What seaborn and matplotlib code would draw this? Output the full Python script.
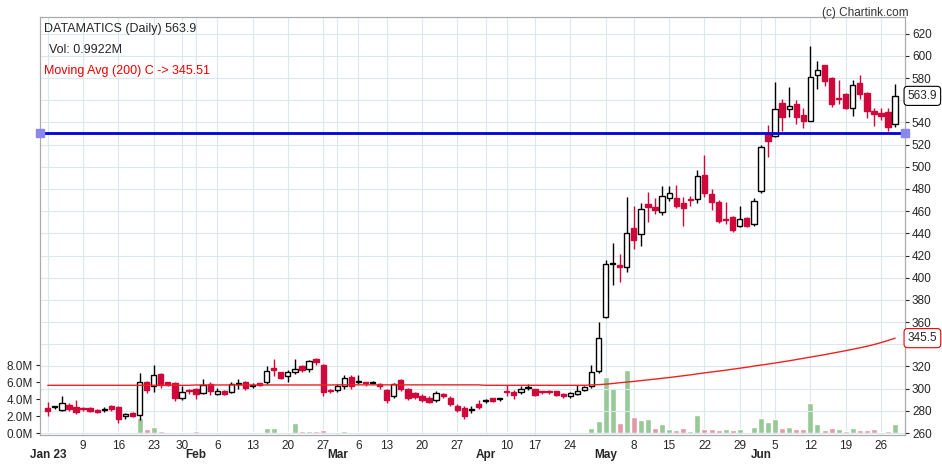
import pandas as pd
import numpy as np
import seaborn as sns
import matplotlib
matplotlib.use("Agg")
import matplotlib.pyplot as plt

# 交易日
holidays = ["2023-01-26", "2023-03-07", "2023-03-30", "2023-04-04", "2023-04-07", "2023-04-14", "2023-05-01"]
dates = pd.bdate_range("2023-01-02", "2023-06-28")
dates = dates[~dates.isin(pd.to_datetime(holidays))]

opens = [282.4, 283, 281, 285.4, 283, 282, 282.4, 281, 280.5, 284, 283, 275, 278, 276, 306, 302, 313, 305.8, 305, 292, 298.5,
         299.8, 296, 304, 295, 298, 297, 304, 306, 302.5, 305, 306, 319, 314.7, 311, 315, 320.7, 317.7, 326.7, 321, 298.5,
         298.8, 302.7, 310.8, 305.7, 305.5, 305, 304, 298.8, 293.7, 307.8, 299.7, 295.8, 293.7, 291.9, 289.8, 295, 291.9, 284.7, 282.3, 281, 286.2,
         288.4, 291.6, 290.5, 296.9, 296.7, 296.7, 300.3, 299.6, 296.8, 297.6, 297.5, 295, 293, 295, 299, 302, 316,
         364.8, 412.7, 411.8, 409.7, 444.6, 439.6, 466.5, 463.5, 459, 471.6, 471.6, 467.4, 470.3, 471, 493, 475.5, 468.6, 453, 454.5, 446.4, 453.6, 448.5,
         478, 529.4, 527.9, 557.2, 552.4, 556.3, 546.5, 541.4, 582.3, 591.3, 580.2, 561.9, 565.3, 553.3, 575.8, 566.2, 550.3, 548.8, 549.4, 538.4]
closes = [279.4, 283.3, 287, 281.8, 279, 281.8, 280, 279, 280.5, 282, 273, 277, 275, 306, 299, 312, 303, 303.4, 292, 297, 298,
          295, 303, 298, 298, 295, 304, 305, 300.4, 303, 303, 316, 317, 310, 314.7, 318, 316.8, 325, 323.7, 297.3, 298,
          302, 310, 302.7, 306, 305, 305.3, 302, 289.8, 304, 299.7, 291.3, 292.8, 289.8, 288.3, 295.8, 293, 285.9, 280.8, 275.7, 281, 283.2,
          288.8, 288.6, 290.8, 296.6, 294, 299.6, 300.6, 294, 296.6, 297.4, 294, 293, 296, 297.5, 301.4, 314.6, 346,
          412.7, 412.9, 409.7, 440, 433.6, 462, 463.5, 461.4, 473.3, 476, 465, 462.6, 470, 491.4, 476, 468.6, 451.5, 452.4, 442.6, 453, 447, 469.5,
          518, 523.4, 551.8, 545.3, 555, 545.3, 541.4, 581, 587, 577.2, 556.3, 561.5, 553.3, 573.4, 565.3, 550.3, 547.4, 545.8, 535.4, 563.9]
highs = [288, 284, 293, 287, 290, 283, 283, 282, 283, 285, 284, 278, 279, 314, 307, 321, 314, 306, 306, 302, 300,
         301, 309, 306, 301, 299, 306, 309, 307, 305, 305.5, 320, 327, 315, 317, 327, 321, 326, 328, 322, 299.5,
         304, 312, 312, 312, 306, 307, 305, 300, 305, 309, 301, 297, 295, 293, 298, 296, 293, 286, 284, 284, 290,
         291, 292, 292, 303, 299, 302, 304, 300, 298, 299, 298, 296, 297, 303, 302, 321, 360,
         415.6, 431.5, 421.6, 472.5, 465, 467.4, 477.5, 472, 483, 483, 484, 472.5, 474, 497, 511, 480, 470, 468, 456, 465, 455, 472,
         520, 537.5, 576, 560.8, 572, 560, 553.4, 608.6, 595, 592, 581, 578, 566.5, 578, 583, 567, 553.4, 553.4, 553.4, 574.4]
lows = [275, 282, 280, 280, 277, 280, 279, 278, 278.5, 280, 269, 273, 274, 272, 296, 297, 301, 302, 289, 290, 295,
        291, 295, 294, 294, 294, 296, 300, 299, 301, 302, 304, 311, 309, 306, 313, 315, 315, 321, 293, 296,
        297, 300, 300, 304, 302, 304, 300, 287, 292, 298, 290, 291, 288, 287, 288, 292, 284, 279, 273, 278, 282,
        287, 288, 289, 293, 291, 295, 299, 293, 295, 295, 293, 292, 292, 294, 298, 301, 314,
        364, 393.8, 396, 405, 426, 429, 450, 457, 456.6, 469, 463, 446.5, 465, 467, 473, 461, 449, 448, 441, 445.5, 445.5, 447,
        476, 508.5, 527, 532.4, 545.3, 538.4, 534.5, 541.4, 569.8, 572.8, 554.2, 557, 552, 546, 561.5, 544.4, 537, 542, 532.4, 535.4]
volume_m = [0.1, 0.1, 0.1, 0, 0.12, 0, 0, 0, 0, 0, 0.1, 0, 0, 1.8, 0.5, 0.7, 0.27, 0.1, 0.1, 0.1, 0.1,
            0.2, 0.15, 0.12, 0.1, 0, 0.1, 0.12, 0.1, 0.1, 0.1, 0.6, 0.6, 0.1, 0.12, 1.15, 0.27, 0.27, 0.27, 0.4, 0.1,
            0.1, 0.2, 0.1, 0.1, 0, 0, 0, 0.1, 0.1, 0.1, 0.1, 0.15, 0, 0, 0.1, 0, 0.1, 0.1, 0.1, 0, 0,
            0, 0, 0, 0.15, 0.15, 0.12, 0.12, 0, 0, 0, 0, 0, 0.12, 0.12, 0.12, 0.6, 1.45,
            6.6, 5.3, 1.2, 7.4, 1.9, 1.5, 1.65, 0.6, 1.05, 0.47, 0.35, 0.6, 0.24, 2.1, 0.47, 0.47, 0.35, 0.47, 0.35, 0.47, 0.12, 0.7,
            1.76, 1.3, 1.65, 0.6, 0.7, 0.47, 0.47, 3.5, 1.06, 0.35, 0.6, 0.47, 0.24, 0.6, 0.35, 0.35, 0.47, 0.12, 0.24, 1.06]
ma200 = [303.0] * 21 + [303.3] * 20 + [303.4] * 21 + [303.0] * 15 + [303.3, 303.6] + \
        [304.0, 304.6, 305.3, 305.9, 306.5, 307.2, 307.9, 308.6, 309.3, 310.0, 310.8, 311.6, 312.4, 313.3, 314.2, 315.0,
         315.8, 316.6, 317.5, 318.4, 319.3, 320.3] + \
        [321.2, 322.1, 323.1, 324.1, 325.1, 326.2, 327.3, 328.4, 329.5, 330.6, 331.8, 333.0, 334.2, 335.5, 336.8,
         338.2, 339.7, 341.5, 343.4, 345.5]
level_line = 530
price_ticks = [260, 280, 300, 320, 360, 380, 400, 420, 440, 460, 480, 500, 520, 540, 580, 600, 620]

df = pd.DataFrame({"date": dates, "open": opens, "high": highs, "low": lows, "close": closes,
                   "vol": volume_m, "ma": ma200})
df["i"] = np.arange(len(df))
df["up"] = df["close"] >= df["open"]
df["vol_up"] = df["close"] >= df["close"].shift(1).fillna(df["open"])

sns.set_style("white")
plt.rcParams['font.family'] = ['Liberation Sans', 'DejaVu Sans']

fig = plt.figure(figsize=(9.42, 4.65), dpi=100)
ax = fig.add_axes([40 / 942, 30 / 465, 865 / 942, 418 / 465])
ax2 = ax.twinx()

# 成交量
sns.barplot(data=df, x="i", y="vol", hue="vol_up", palette={True: "#8fd18f", False: "#f08ca0"},
            native_scale=True, dodge=False, legend=False, width=0.85, ax=ax)
ax.set_ylim(-0.236, 49.1)
ax.set_yticks([0, 2, 4, 6, 8], ["0.0M", "2.0M", "4.0M", "6.0M", "8.0M"])
ax.set_ylabel("")
ax.set_xlabel("")

# 价格网格
for p in range(260, 640, 20):
    ax2.axhline(p, color="#dbe9ef", lw=0.8, zorder=0)

red = "#d0073a"
for _, r in df.iterrows():
    col = "black" if r["up"] else red
    ax2.vlines(r["i"], r["low"], r["high"], color=col, lw=1, zorder=2)
    lo, hi = min(r["open"], r["close"]), max(r["open"], r["close"])
    ax2.bar(r["i"], max(hi - lo, 0.9), bottom=lo, width=0.75, color="white" if r["up"] else red,
            edgecolor=col, lw=1, zorder=3)

sns.lineplot(data=df, x="i", y="ma", color="#ee2222", lw=1, ax=ax2, zorder=4)
xl = (-1.1, 121.4)
ax2.plot(xl, [level_line, level_line], color="#0000dd", lw=2, zorder=5)
ax2.plot(xl, [level_line, level_line], ls="none", marker="s", ms=6, color="#8888ee", clip_on=False, zorder=6)
ax2.set_ylim(258.2, 635)
ax2.set_yticks(price_ticks)
ax2.set_ylabel("")
ax.set_xlim(*xl)

# x 轴刻度
month_first = df.groupby(df["date"].dt.month)["i"].first()
mondays = df[df["date"].dt.weekday == 0]["i"]
day_ticks = [i for i in mondays if i not in month_first.values]
day_labels = [str(df["date"][i].day) for i in day_ticks]
month_labels = ["Jan 23", "Feb", "Mar", "Apr", "May", "Jun"]
ax.set_xticks(day_ticks, day_labels)
ax.set_xticks(list(month_first.values), month_labels, minor=True)
for lb in ax.get_xticklabels(minor=True):
    lb.set_fontweight("bold")
for v in list(day_ticks) + list(month_first.values):
    ax.axvline(v, color="#dbe9ef", lw=0.8, zorder=0)
ax.tick_params(axis="x", which="major", length=3, labelsize=8.5, color="#999999", pad=0.5)
ax.tick_params(axis="x", which="minor", length=2, labelsize=8.5, color="#999999", pad=8)
ax.tick_params(axis="y", length=3, labelsize=8.5, pad=2)
ax2.tick_params(axis="y", length=3, labelsize=8.5, pad=2)

for a in (ax, ax2):
    for s in a.spines.values():
        s.set_color("#aaaaaa")

# 文本
ax2.text(0.005, 0.985, "DATAMATICS (Daily) 563.9", transform=ax2.transAxes, fontsize=9, va="top")
ax2.text(0.01, 0.935, "Vol: 0.9922M", transform=ax2.transAxes, fontsize=9, va="top")
ax2.text(0.005, 0.885, "Moving Avg (200) C -> 345.51", transform=ax2.transAxes, fontsize=9, va="top", color="#ee0000")
fig.text(0.965, 0.985, "(c) Chartink.com", fontsize=8.5, ha="right", va="top", color="#333333")
for val, ec in ((563.9, "black"), (345.5, "#ee0000")):
    ax2.annotate(f"{val}", xy=(1.003, val), xycoords=("axes fraction", "data"), fontsize=8.5, va="center",
                 zorder=20, annotation_clip=False,
                 bbox=dict(boxstyle="round,pad=0.3", fc="white", ec=ec, lw=0.8))

fig.savefig("out.png", dpi=100)
